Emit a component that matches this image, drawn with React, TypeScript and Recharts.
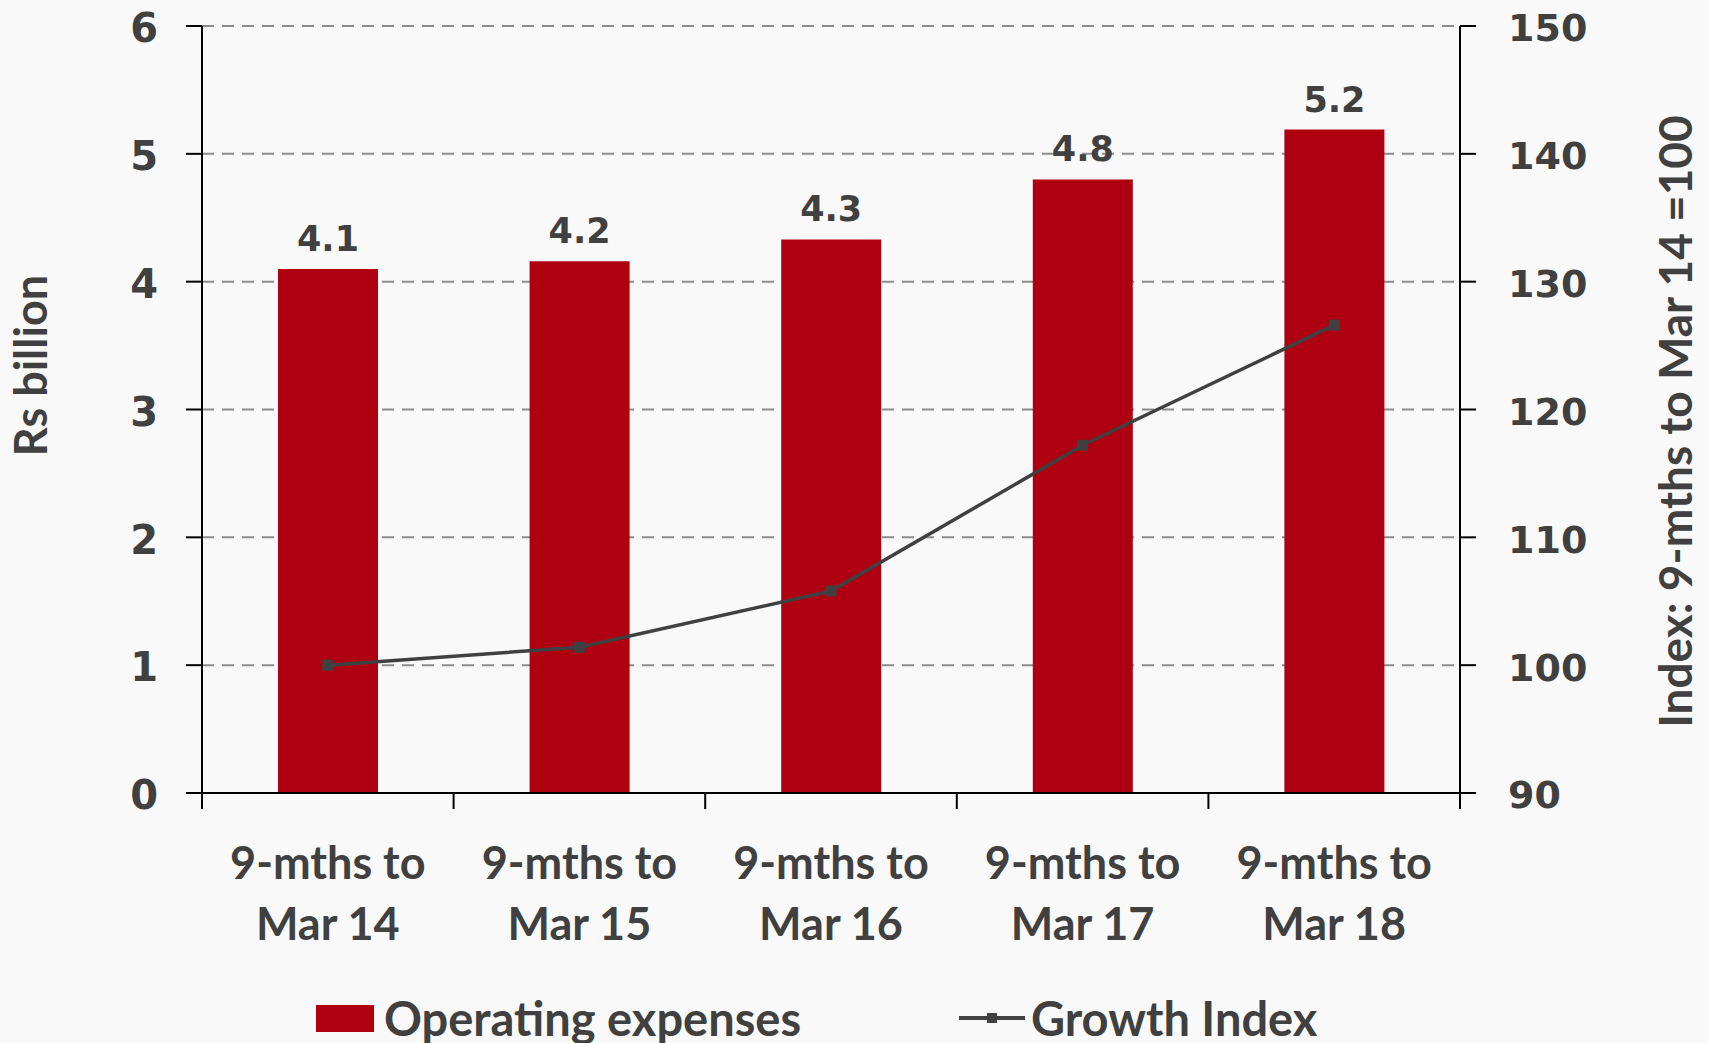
import React from "react";
import { Bar, ComposedChart, CartesianGrid, LabelList, Line, XAxis, YAxis } from "recharts";

const categories = ["9-mths to\nMar 14", "9-mths to\nMar 15", "9-mths to\nMar 16", "9-mths to\nMar 17", "9-mths to\nMar 18"];
const operatingExpenses = [4.1, 4.16, 4.33, 4.8, 5.19];
const growthIndex = [100, 101.4, 105.8, 117.2, 126.6];
const leftTicks = [0, 1, 2, 3, 4, 5, 6];
const rightTicks = [90, 100, 110, 120, 130, 140, 150];

const data = categories.map((name, i) => ({
  name,
  opex: operatingExpenses[i],
  index: growthIndex[i],
}));

const W = 1709;
const H = 1043;
const PLOT_LEFT = 202;
const PLOT_RIGHT = 1460;
const PLOT_TOP = 26;
const PLOT_BOTTOM = 793;
const BAND = (PLOT_RIGHT - PLOT_LEFT) / categories.length;

const TEXT = "#404040";
const RED = "#ae0011";
const NUM_FONT = "'DejaVu Sans', sans-serif";
const LABEL_FONT = "Lato, 'Open Sans', sans-serif";

function CategoryTick(props: any) {
  const { x, y, payload, index } = props;
  const lines = String(payload.value).split("\n");
  return (
    <g>
      {index === 0 && <line x1={x - BAND / 2} x2={x - BAND / 2} y1={y} y2={y + 16} stroke="#000" strokeWidth={2} />}
      <line x1={x + BAND / 2} x2={x + BAND / 2} y1={y} y2={y + 16} stroke="#000" strokeWidth={2} />
      {lines.map((t, i) => (
        <text
          key={i}
          x={x}
          y={y + 86 + i * 61}
          textAnchor="middle"
          fill={TEXT}
          fontFamily={LABEL_FONT}
          fontWeight={700}
          fontSize={45}
        >
          {t}
        </text>
      ))}
    </g>
  );
}

function SquareDot(props: any) {
  const { cx, cy } = props;
  if (cx == null || cy == null) return null;
  return <rect x={cx - 5.5} y={cy - 5.5} width={11} height={11} fill={TEXT} />;
}

export default function App() {
  return (
    <div style={{ position: "absolute", left: 0, top: 0, width: W, height: H, background: "#f9f9f9", overflow: "hidden" }}>
      <ComposedChart width={W} height={H} data={data} margin={{ top: PLOT_TOP, right: 0, bottom: 0, left: 0 }}>
        <CartesianGrid yAxisId="left" vertical={false} stroke="#8c8c8c" strokeWidth={2} strokeDasharray="12 8" />
        <XAxis
          dataKey="name"
          height={H - PLOT_BOTTOM}
          stroke="#000"
          strokeWidth={2}
          tickLine={false}
          tickSize={0}
          tickMargin={0}
          interval={0}
          tick={<CategoryTick />}
        />
        <YAxis
          yAxisId="left"
          width={PLOT_LEFT}
          domain={[0, 6]}
          ticks={leftTicks}
          stroke="#000"
          strokeWidth={2}
          tickSize={16}
          tickMargin={28}
          tick={{ fill: TEXT, fontFamily: NUM_FONT, fontWeight: 700, fontSize: 40, dy: 2 }}
          label={{
            value: "Rs billion",
            angle: -90,
            position: "insideLeft",
            dx: 26,
            dy: -44,
            style: { fill: TEXT, fontFamily: LABEL_FONT, fontWeight: 700, fontSize: 45, textAnchor: "middle" },
          }}
        />
        <YAxis
          yAxisId="right"
          orientation="right"
          width={W - PLOT_RIGHT}
          domain={[90, 150]}
          ticks={rightTicks}
          stroke="#000"
          strokeWidth={2}
          tickSize={16}
          tickMargin={32}
          tick={{ fill: TEXT, fontFamily: NUM_FONT, fontWeight: 700, fontSize: 38, dy: 2 }}
          label={{
            value: "Index: 9-mths to Mar 14 =100",
            angle: -90,
            position: "insideRight",
            dx: -28,
            dy: 12,
            style: { fill: TEXT, fontFamily: LABEL_FONT, fontWeight: 700, fontSize: 46, textAnchor: "middle" },
          }}
        />
        <Bar yAxisId="left" dataKey="opex" name="Operating expenses" fill={RED} barSize={100} isAnimationActive={false}>
          <LabelList
            dataKey="opex"
            position="top"
            offset={18}
            formatter={(v: any) => Number(v).toFixed(1)}
            style={{ fill: TEXT, fontFamily: NUM_FONT, fontWeight: 700, fontSize: 35 }}
          />
        </Bar>
        <Line
          yAxisId="right"
          dataKey="index"
          name="Growth Index"
          stroke={TEXT}
          strokeWidth={3.5}
          dot={<SquareDot />}
          activeDot={false}
          isAnimationActive={false}
        />
      </ComposedChart>
      <div
        style={{
          position: "absolute",
          left: 316,
          top: 990,
          display: "flex",
          alignItems: "center",
          fontFamily: LABEL_FONT,
          fontWeight: 700,
          fontSize: 47,
          color: TEXT,
          whiteSpace: "nowrap",
        }}
      >
        <span style={{ display: "inline-block", width: 58, height: 27, background: RED, marginRight: 10 }} />
        <span>Operating expenses</span>
      </div>
      <div
        style={{
          position: "absolute",
          left: 959,
          top: 990,
          display: "flex",
          alignItems: "center",
          fontFamily: LABEL_FONT,
          fontWeight: 700,
          fontSize: 47,
          color: TEXT,
          whiteSpace: "nowrap",
        }}
      >
        <svg width={66} height={20} style={{ marginRight: 6 }}>
          <line x1={0} x2={66} y1={10} y2={10} stroke={TEXT} strokeWidth={4} />
          <rect x={28} y={5} width={10} height={10} fill={TEXT} />
        </svg>
        <span>Growth Index</span>
      </div>
    </div>
  );
}
